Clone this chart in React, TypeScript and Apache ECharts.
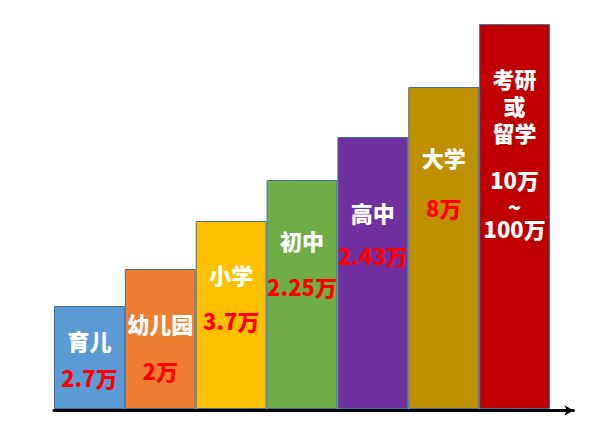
import { useEffect, useRef } from 'react'
import * as echarts from 'echarts'

// 阶段名称
const stages = ['育儿', '幼儿园', '小学', '初中', '高中', '大学', '考研\n或\n留学']
// 花费文字
const costs = ['2.7万', '2万', '3.7万', '2.25万', '2.43万', '8万', '10万\n~\n100万']
// 台阶高度（示意）
const stepHeights = [103, 140, 188, 229, 272, 322, 385]

const barColors = ['#5B9BD5', '#ED7D31', '#FFC000', '#70AD47', '#7030A0', '#BF9000', '#C00000']
const costColors = ['#FF0000', '#FF0000', '#FF0000', '#FF0000', '#FF0000', '#FF0000', '#FFFFFF']
// 标签中心相对柱顶的偏移
const nameOffsets = [34, 54, 53, 60, 75, 70, 81]
const costOffsets = [71, 101, 99, 106, 118, 120, 176.5]

const FONT = '"Noto Sans CJK SC", "Noto Sans", sans-serif'

// 多行花费文字用富文本控制行距
const costLineStyles = ['l0', 'l1', 'l2']
const formatCost = (text: string) => {
  const lines = text.split('\n')
  if (lines.length === 1) return text
  return lines.map((s, k) => `{${costLineStyles[k]}|${s}}`).join('\n')
}

export default function App() {
  const chartRef = useRef<HTMLDivElement>(null)

  useEffect(() => {
    if (!chartRef.current) return
    const chart = echarts.init(chartRef.current, undefined, { renderer: 'svg' })

    const labelBase = {
      show: true,
      align: 'center',
      verticalAlign: 'middle',
      fontFamily: FONT,
      fontWeight: 900,
      fontSize: 22,
      lineHeight: 27
    }
    const richLine = (lh: number) => ({
      fontFamily: FONT,
      fontWeight: 900,
      fontSize: 22,
      color: '#FFFFFF',
      lineHeight: lh
    })

    const option: any = {
      animation: false,
      grid: [
        { left: 54, right: 66, top: 9, bottom: 27 },
        { left: 54, right: 42.5, top: 9, bottom: 25.5 }
      ],
      xAxis: [
        {
          type: 'category',
          gridIndex: 0,
          data: stages,
          axisLine: { show: false },
          axisTick: { show: false },
          axisLabel: { show: false }
        },
        {
          type: 'value',
          gridIndex: 1,
          min: 0,
          max: 1,
          axisLine: {
            show: true,
            symbol: ['none', 'arrow'],
            symbolSize: [8, 9],
            lineStyle: { color: '#000', width: 3 }
          },
          axisTick: { show: false },
          axisLabel: { show: false },
          splitLine: { show: false }
        }
      ],
      yAxis: [
        { type: 'value', gridIndex: 0, min: 0, max: 400, show: false },
        { type: 'value', gridIndex: 1, min: 0, max: 1, show: false }
      ],
      series: [
        {
          name: '阶段',
          type: 'bar',
          barCategoryGap: '0%',
          barGap: '-100%',
          data: stepHeights.map((v, i) => ({
            value: v,
            itemStyle: { color: barColors[i] },
            label: {
              ...labelBase,
              color: '#FFFFFF',
              position: ['50%', nameOffsets[i]],
              formatter: () => stages[i]
            }
          })),
          itemStyle: { borderColor: '#41719C', borderWidth: 1 }
        },
        {
          name: '花费',
          type: 'bar',
          barCategoryGap: '0%',
          barGap: '-100%',
          z: 3,
          data: stepHeights.map((v, i) => ({
            value: v,
            label: {
              ...labelBase,
              color: costColors[i],
              position: ['50%', costOffsets[i]],
              formatter: () => formatCost(costs[i]),
              rich: { l0: richLine(28), l1: richLine(26), l2: richLine(18) }
            }
          })),
          itemStyle: { color: 'rgba(0,0,0,0)', borderWidth: 0 }
        },
        { type: 'line', xAxisIndex: 1, yAxisIndex: 1, data: [] }
      ]
    }

    chart.setOption(option)

    return () => {
      chart.dispose()
    }
  }, [])

  return (
    <div
      ref={chartRef}
      style={{ position: 'absolute', left: 0, top: 0, width: '616px', height: '436px', background: '#fff' }}
    />
  )
}
